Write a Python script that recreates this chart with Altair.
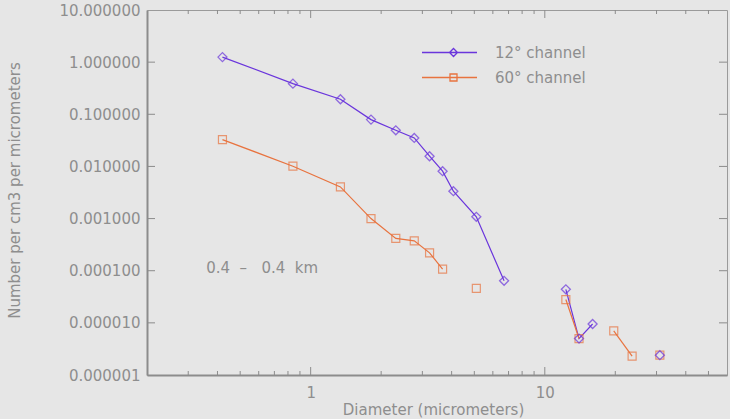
import altair as alt
import pandas as pd

# ---------------- data ----------------
diameter = [0.42, 0.84, 1.34, 1.81, 2.31, 2.77, 3.22, 3.66, 4.07, 5.1, 6.7,
            9.0, 12.3, 14.0, 16.0, 19.7, 23.6, 27.0, 31.0]
ch12 = [1.25, 0.387, 0.194, 0.079, 0.0493, 0.0352, 0.0157, 0.0081, 0.00335,
        0.00108, 6.4e-5, None, 4.4e-5, 5.0e-6, 9.5e-6, None, None, None, 2.4e-6]
ch60 = [0.0327, 0.0101, 0.00405, 0.0010, 0.000416, 0.000374, 0.00022, 0.000107,
        None, 4.6e-5, None, None, 2.8e-5, 5.0e-6, None, 7.0e-6, 2.3e-6, None, 2.4e-6]
series_names = ["12° channel", "60° channel"]

x_major = [1, 10]
x_minor = [0.3, 0.4, 0.5, 0.6, 0.7, 0.8, 0.9, 2, 3, 4, 5, 6, 7, 8, 9, 20, 30, 40, 50]
y_major = [1e-6, 1e-5, 1e-4, 1e-3, 1e-2, 1e-1, 1, 10]

note_text = "0.4\u00a0\u00a0–\u00a0\u00a0 0.4\u00a0\u00a0km"
note_x = [0.358]
note_y = [1.12e-4]

# ---------------- build tables ----------------
rows = []
for name, vals in zip(series_names, [ch12, ch60]):
    seg = 0
    for d, v in zip(diameter, vals):
        if v is None:
            seg += 1
            continue
        rows.append({"d": d, "n": v, "series": name, "seg": seg})
df = pd.DataFrame(rows)

xmaj_df = pd.DataFrame({"d": x_major})
xmin_df = pd.DataFrame({"d": x_minor})
ymaj_df = pd.DataFrame({"n": y_major[1:-1]})
note_df = pd.DataFrame({"d": note_x, "n": note_y, "t": [note_text]})

# ---------------- styles ----------------
W, H = 580, 365
BLUE = "#6a35dc"
ORANGE = "#e8733f"
AX = "#8c8c8c"
TXT = "#8e8e8e"
FONT = "DejaVu Sans"
XTITLE = "Diameter (micrometers)"
YTITLE = "Number per cm3 per micrometers"

xs = alt.Scale(type="log", domain=[0.2, 60], nice=False)
ys = alt.Scale(type="log", domain=[1e-6, 10], nice=False)
cs = alt.Scale(domain=series_names, range=[BLUE, ORANGE])

PATH_D = "M-5.5,0H5.5M0,0L0.8,-0.8L1.6,0L0.8,0.8Z"
PATH_S = "M-5.5,0H5.5M0.1,-0.7H1.5V0.7H0.1Z"

x_axis = alt.Axis(values=x_major, format="~g", grid=False, ticks=False, tickSize=0,
                  labelPadding=10, labelFontSize=15, labelColor=TXT, labelFont=FONT,
                  domainColor=AX, domainWidth=2,
                  titleFontSize=15, titleFontWeight="normal", titleColor=TXT, titleFont=FONT,
                  titleX=286, titleY=34, titleBaseline="middle", titleAlign="center")
y_axis = alt.Axis(values=y_major, format=".6f", grid=False, ticks=False, tickSize=0,
                  labelPadding=7, labelFontSize=15, labelColor=TXT, labelFont=FONT,
                  domainColor=AX, domainWidth=2,
                  titleFontSize=15, titleFontWeight="normal", titleColor=TXT, titleFont=FONT,
                  titleAngle=-90, titleX=-133, titleY=180, titleBaseline="middle",
                  titleAlign="center")
legend = alt.Legend(
    orient="none", legendX=295, legendY=35, title=None, padding=0,
    symbolSize=100, symbolOpacity=1, symbolStrokeWidth=1.3,
    symbolFillColor="transparent", labelOffset=38, labelFontSize=15,
    labelColor=TXT, labelFont=FONT, rowPadding=9)

X = alt.X("d:Q", scale=xs, axis=x_axis, title=XTITLE)
Y = alt.Y("n:Q", scale=ys, axis=y_axis, title=YTITLE)
C = alt.Color("series:N", scale=cs, legend=legend)
S = alt.Shape("series:N", scale=alt.Scale(domain=series_names, range=[PATH_D, PATH_S]),
              legend=legend)

base = alt.Chart(df)

lines = base.mark_line(strokeWidth=1.2).encode(x=X, y=Y, color=C, detail="seg:N")

legend_layer = base.mark_point(opacity=0, filled=False).encode(x=X, y=Y, color=C, shape=S)

pts_d = base.transform_filter(
    alt.FieldEqualPredicate(field="series", equal=series_names[0])
).mark_point(shape="diamond", size=81, strokeWidth=1.3, filled=False).encode(x=X, y=Y, color=C)
pts_s = base.transform_filter(
    alt.FieldEqualPredicate(field="series", equal=series_names[1])
).mark_point(shape="square", size=64, strokeWidth=1.2, filled=False).encode(x=X, y=Y, color=C)


def xticks(data, y0, y1):
    return alt.Chart(data).mark_rule(color=AX, strokeWidth=1).encode(
        x=X, y=alt.value(y0), y2=alt.value(y1))


def yticks(data, x0, x1):
    return alt.Chart(data).mark_rule(color=AX, strokeWidth=1).encode(
        y=Y, x=alt.value(x0), x2=alt.value(x1))


ticks = [
    xticks(xmaj_df, H, H - 8), xticks(xmin_df, H, H - 4),
    xticks(xmaj_df, 0, 8), xticks(xmin_df, 0, 4),
    yticks(ymaj_df, 0, 8), yticks(ymaj_df, W, W - 8),
]

note = alt.Chart(note_df).mark_text(
    align="left", baseline="middle", fontSize=15, color=TXT, font=FONT
).encode(x=X, y=Y, text="t:N")

chart = alt.layer(*ticks, lines, pts_s, pts_d, legend_layer, note).properties(
    width=W, height=H,
    autosize=alt.AutoSizeParams(type="none"),
    padding={"left": 147, "top": 10, "right": 3, "bottom": 44},
    background="#e6e6e6",
).configure_view(stroke="#9a9a9a", strokeWidth=1)

chart.save("out.html", embed_options={"renderer": "svg", "actions": False})
